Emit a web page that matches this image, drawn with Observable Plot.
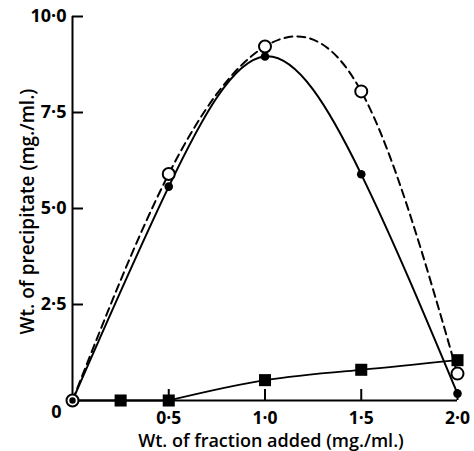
<!DOCTYPE html>
<html><head><meta charset="utf-8">
<script src="https://cdn.jsdelivr.net/npm/d3@7"></script>
<script src="https://cdn.jsdelivr.net/npm/@observablehq/plot@0.6"></script>
<style>
body{margin:0;background:#fff}
</style>
</head><body><div id="chart"></div>
<script>
// Data
const fraction = [0, 0.5, 1.0, 1.5, 2.0];
const openCircle = [0, 5.9, 9.22, 8.05, 0.7];
const filledCircle = [0, 5.57, 8.96, 5.89, 0.18];
const squareX = [0, 0.25, 0.5, 1.0, 1.5, 2.0];
const squareY = [0, 0, 0, 0.53, 0.8, 1.05];
const xTicks = [0.5, 1.0, 1.5, 2.0];
const yTicks = [2.5, 5.0, 7.5, 10.0];
const xLabel = "Wt. of fraction added (mg./ml.)";
const yLabel = "Wt. of precipitate (mg./ml.)";
const originLabel = "0";

const openData = fraction.map((x, i) => ({x, y: openCircle[i]}));
const filledData = fraction.map((x, i) => ({x, y: filledCircle[i]}));
const squareData = squareX.map((x, i) => ({x, y: squareY[i]}));
const fmt = d => d3.format(".1f")(d).replace(".", "\u00b7");

const chart = Plot.plot({
  width: 474,
  height: 451,
  marginLeft: 72,
  marginRight: 17,
  marginTop: 16,
  marginBottom: 51,
  style: {fontFamily: "'Open Sans', sans-serif", fontSize: "16px", background: "white", color: "black", overflow: "visible"},
  x: {domain: [0, 2]},
  y: {domain: [0, 10]},
  marks: [
    Plot.ruleX([0], {stroke: "black", strokeWidth: 2}),
    Plot.ruleY([0], {stroke: "black", strokeWidth: 2}),
    Plot.axisY(yTicks, {tickSize: -11, tickFormat: () => "", strokeWidth: 2, label: null}),
    Plot.axisY(yTicks, {tickSize: 0, tickPadding: 6, tickFormat: fmt, fontSize: 18, fontWeight: 700, fill: "black", label: null}),
    Plot.axisX(xTicks, {tickSize: -11, tickFormat: () => "", strokeWidth: 2, label: null}),
    Plot.axisX(xTicks, {tickSize: 0, tickPadding: 11, tickFormat: fmt, fontSize: 17.5, fontWeight: 700, fill: "black", label: null}),
    Plot.text([originLabel], {frameAnchor: "bottom-left", textAnchor: "middle", lineAnchor: "middle", dx: -16, dy: 12, fontSize: 18, fontWeight: 700, fill: "black"}),
    Plot.text([xLabel], {frameAnchor: "bottom", textAnchor: "middle", lineAnchor: "middle", dx: 6, dy: 41, fontSize: 18, fontWeight: 600, letterSpacing: 0.9, fill: "black"}),
    Plot.text([yLabel], {frameAnchor: "left", textAnchor: "middle", lineAnchor: "middle", dx: -45, dy: 3, rotate: -90, fontSize: 19, fontWeight: 600, letterSpacing: 0.6, fill: "black"}),
    Plot.line(squareData.filter(d => d.x <= 0.5), {x: "x", y: "y", stroke: "black", strokeWidth: 2}),
    Plot.line(squareData.filter(d => d.x >= 0.5), {x: "x", y: "y", curve: "natural", stroke: "black", strokeWidth: 1.8}),
    Plot.line(openData, {x: "x", y: "y", curve: "natural", stroke: "black", strokeWidth: 2, strokeDasharray: "8,5"}),
    Plot.line(filledData, {x: "x", y: "y", curve: "natural", stroke: "black", strokeWidth: 2}),
    Plot.dot(squareData.filter(d => d.x > 0), {x: "x", y: "y", symbol: "square", r: 6.8, fill: "black"}),
    Plot.dot(openData, {x: "x", y: "y", r: 6, fill: "white", stroke: "black", strokeWidth: 2}),
    Plot.dot(filledData.filter(d => d.x > 0), {x: "x", y: "y", r: 4.3, fill: "black"}),
    Plot.dot(filledData.filter(d => d.x === 0), {x: "x", y: "y", r: 3.2, fill: "black"})
  ]
});
document.getElementById("chart").appendChild(chart);
</script>
</body></html>
